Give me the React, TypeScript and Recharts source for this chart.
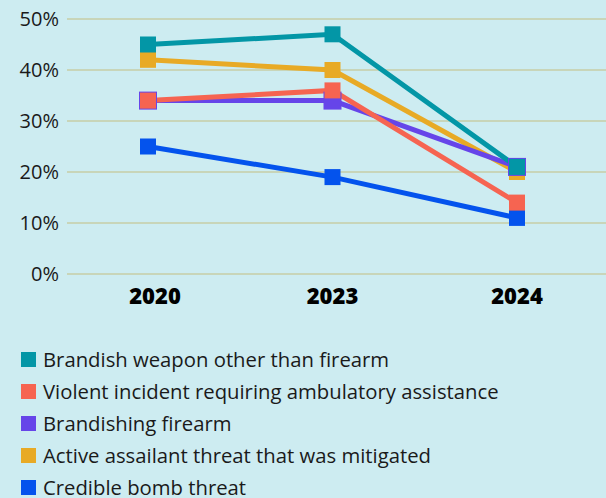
import React from 'react';
import { LineChart, Line, XAxis, YAxis, CartesianGrid } from 'recharts';

const years = ['2020', '2023', '2024'];
const brandishWeapon = [45, 47, 21];
const violentIncident = [34, 36, 14];
const brandishingFirearm = [34, 34, 21];
const activeAssailant = [42, 40, 20];
const bombThreat = [25, 19, 11];
const yTicks = [0, 10, 20, 30, 40, 50];

const series = [
  { key: 'weapon', name: 'Brandish weapon other than firearm', values: brandishWeapon, color: '#0396A6', size: 16 },
  { key: 'violent', name: 'Violent incident requiring ambulatory assistance', values: violentIncident, color: '#F66451', size: 16 },
  { key: 'firearm', name: 'Brandishing firearm', values: brandishingFirearm, color: '#6645E9', size: 18 },
  { key: 'assailant', name: 'Active assailant threat that was mitigated', values: activeAssailant, color: '#E8AA25', size: 16 },
  { key: 'bomb', name: 'Credible bomb threat', values: bombThreat, color: '#0453ED', size: 16 },
];

const data = years.map((year, i) => {
  const row: Record<string, string | number> = { year };
  series.forEach((s) => {
    row[s.key] = s.values[i];
  });
  return row;
});

const squareDot = (color: string, size: number) => (props: any) => {
  const { cx, cy, index } = props;
  if (cx == null || cy == null) return <g key={`d-${index}`} />;
  return <rect key={`d-${index}`} x={cx - size / 2} y={cy - size / 2} width={size} height={size} fill={color} />;
};

const YearTick = (props: any) => {
  const { x, y, payload, index } = props;
  const shift = index === 0 ? 7 : 0;
  return (
    <text x={x + shift} y={y} dy={16} textAnchor="middle" fill="#000" fontSize={22} fontWeight={800}>
      {payload.value}
    </text>
  );
};

export default function App() {
  // drawn bottom to top, legend reads the other way
  const drawOrder = [...series].reverse();
  return (
    <div style={{ width: 606, height: 498, background: '#CDECF1', fontFamily: '"Open Sans", sans-serif', overflow: 'hidden' }}>
      <style>{'body{margin:0}'}</style>
      <LineChart width={606} height={326} data={data} margin={{ top: 19, right: 0, left: 0, bottom: 0 }}>
        <CartesianGrid horizontal vertical={false} stroke="#C6CEA6" strokeWidth={1.5} />
        <XAxis
          dataKey="year"
          axisLine={false}
          tickLine={false}
          padding={{ left: 81, right: 89 }}
          height={52}
          tick={<YearTick />}
          tickMargin={8}
        />
        <YAxis
          domain={[0, 50]}
          ticks={yTicks}
          width={67}
          axisLine={false}
          tickLine={false}
          tickFormatter={(v) => `${v}%`}
          tick={{ fill: '#1a1a1a', fontSize: 20 }}
        />
        {drawOrder.map((s) => (
          <Line
            key={s.key}
            dataKey={s.key}
            name={s.name}
            type="linear"
            stroke={s.color}
            strokeWidth={5}
            dot={squareDot(s.color, s.size)}
            activeDot={false}
            isAnimationActive={false}
          />
        ))}
      </LineChart>
      <div style={{ marginTop: 17, paddingLeft: 21 }}>
        {series.map((s) => (
          <div key={s.key} style={{ display: 'flex', alignItems: 'center', height: 32 }}>
            <span style={{ width: 15, height: 15, background: s.color, display: 'inline-block', marginRight: 7 }} />
            <span style={{ fontSize: 20.3, color: '#1a1a1a', whiteSpace: 'nowrap' }}>{s.name}</span>
          </div>
        ))}
      </div>
    </div>
  );
}
